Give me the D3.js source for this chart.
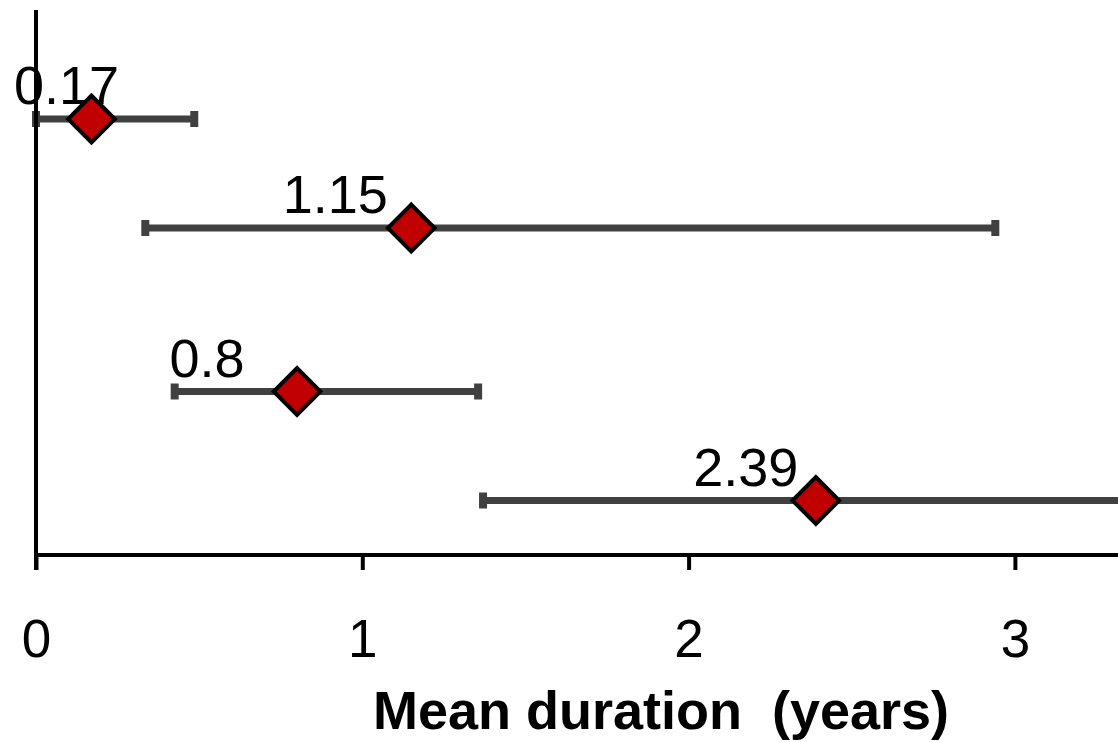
<!DOCTYPE html>
<html><head><meta charset="utf-8">
<script src="https://cdn.jsdelivr.net/npm/d3@7"></script>
<style>body{margin:0;background:#fff}svg{display:block;font-family:"Liberation Sans",Arial,sans-serif}</style>
</head><body><svg id="c" width="1118" height="742"></svg>
<script>
const groups = ["A", "B", "C", "D"];
const rowPos = [8, 6, 3, 1];
const means = [0.17, 1.15, 0.8, 2.39];
const lower = [0.0, 0.335, 0.425, 1.37];
const upper = [0.485, 2.94, 1.355, 3.6];
const meanLabels = ["0.17", "1.15", "0.8", "2.39"];
const xTicks = [0, 1, 2, 3];
const xTitle = "Mean duration\u00a0 (years)";
const labelDx = [-25, -76, -90, -70];

const svg = d3.select("#c");
const x = d3.scaleLinear().domain([0, 3.5]).range([36, 36 + 3.5 * 326.3]);
const y = d3.scaleLinear().domain([0, 10]).range([555, 10]);

// error bars
const eb = svg.append("g");
groups.forEach((g, i) => {
  eb.append("line").attr("x1", x(lower[i])).attr("x2", x(upper[i]))
    .attr("y1", y(rowPos[i])).attr("y2", y(rowPos[i]))
    .attr("stroke", "#404040").attr("stroke-width", 7);
  [lower[i], upper[i]].forEach(v => {
    eb.append("rect").attr("x", x(v) - 4).attr("y", y(rowPos[i]) - 8)
      .attr("width", 8).attr("height", 16).attr("fill", "#404040");
  });
});

// axes
const ax = svg.append("g").attr("transform", "translate(0,555)")
  .call(d3.axisBottom(x).tickValues(xTicks).tickSize(15).tickPadding(49).tickFormat(d3.format("d")));
ax.select(".domain").attr("stroke", "#000").attr("stroke-width", 4).attr("d", "M36,0H1118");
ax.selectAll(".tick line").attr("stroke", "#000").attr("stroke-width", 4);
ax.selectAll(".tick text").attr("font-size", 53).attr("fill", "#000")
  .attr("font-family", "Liberation Sans, Arial, sans-serif");

svg.append("line").attr("x1", x(0)).attr("x2", x(0)).attr("y1", y(10)).attr("y2", 570)
  .attr("stroke", "#000").attr("stroke-width", 4);

// diamonds
const sym = d3.symbol().type(d3.symbolSquare).size(33 * 33);
groups.forEach((g, i) => {
  svg.append("path").attr("d", sym())
    .attr("transform", `translate(${x(means[i])},${y(rowPos[i])}) rotate(45)`)
    .attr("fill", "#c00000").attr("stroke", "#000").attr("stroke-width", 4)
    .attr("stroke-linejoin", "miter");
});

// labels
groups.forEach((g, i) => {
  svg.append("text").attr("x", x(means[i]) + labelDx[i]).attr("y", y(rowPos[i]) - 15)
    .attr("text-anchor", "middle").attr("font-size", 54).attr("fill", "#000")
    .text(meanLabels[i]);
});

svg.append("text").attr("x", 661).attr("y", 729).attr("text-anchor", "middle")
  .attr("font-size", 54).attr("font-weight", "bold").attr("fill", "#000").text(xTitle);
</script></body></html>
